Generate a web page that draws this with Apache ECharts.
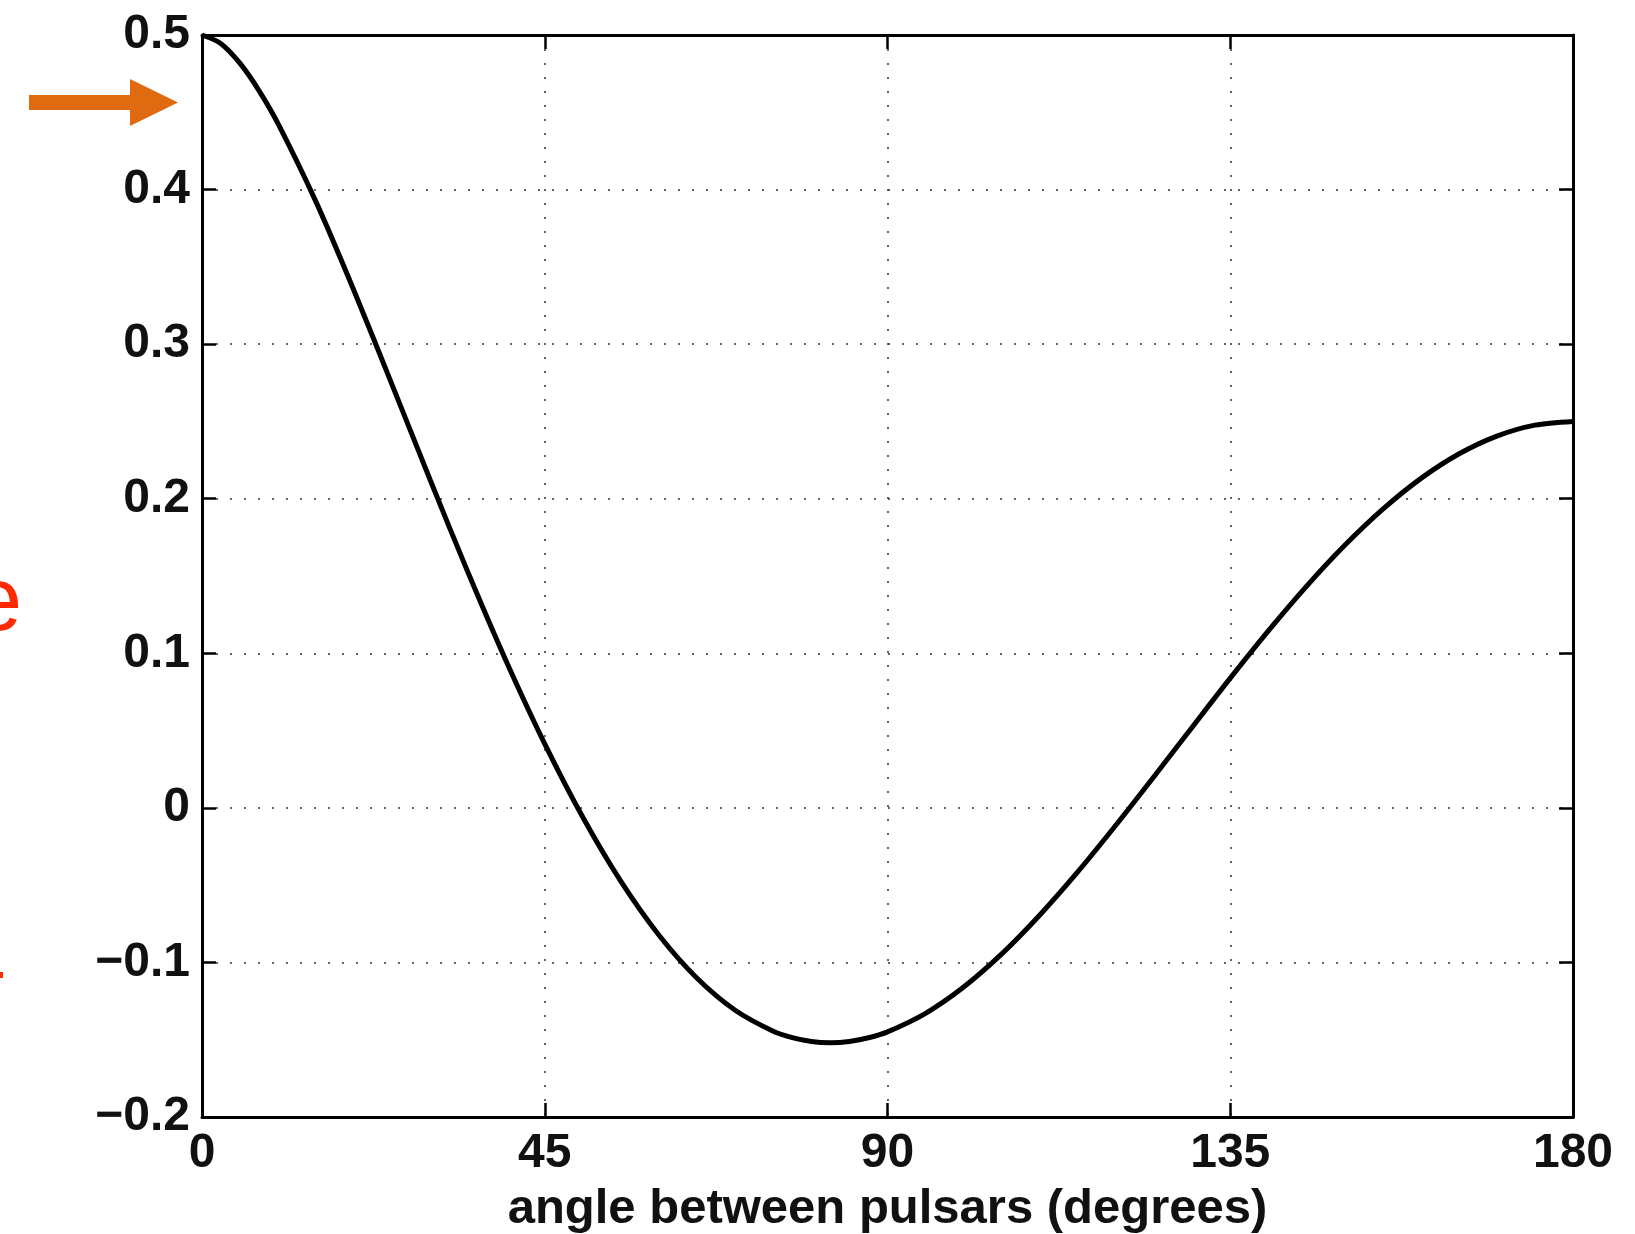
<!DOCTYPE html>
<html>
<head>
<meta charset="utf-8">
<script src="https://cdn.jsdelivr.net/npm/echarts@6/dist/echarts.min.js"></script>
<style>html,body{margin:0;padding:0;background:#fff;}#chart{width:1635px;height:1234px;}</style>
</head>
<body>
<div id="chart"></div>
<script>
// angle between pulsars (degrees)
const angles = [0,2.5,5,7.5,10,15,20,25,30,35,40,45,50,55,60,65,70,75,77.5,80,82.5,85,87.5,90,95,100,105,110,115,120,125,130,135,140,145,150,155,160,165,170,175,180];
// correlation
const correlation = [0.5,0.4944,0.4816,0.4639,0.4425,0.3917,0.3341,0.2732,0.2116,0.1514,0.0942,0.0414,-0.0061,-0.0476,-0.0824,-0.1102,-0.1309,-0.1445,-0.1486,-0.1511,-0.1519,-0.1511,-0.1487,-0.1449,-0.1329,-0.1159,-0.0945,-0.0693,-0.0413,-0.0111,0.0203,0.0522,0.0839,0.1145,0.1433,0.1697,0.1931,0.2130,0.2289,0.2405,0.2476,0.25];
const xTicks = [0,45,90,135,180];
const yTicks = [-0.2,-0.1,0,0.1,0.2,0.3,0.4,0.5];
const xName = 'angle between pulsars (degrees)';

const chart = echarts.init(document.getElementById('chart'), null, {renderer:'canvas'});
const fontFam = '"Liberation Sans", Arial, Helvetica, sans-serif';
const dotted = {color:'#333', width:1.5, type:[2,12]};
const fmtY = v => { const r = Math.round(v*10)/10; return r === 0 ? '0' : r.toFixed(1).replace('-', '\u2212'); };

chart.setOption({
  animation:false,
  backgroundColor:'#fff',
  grid:{left:202, right:62, top:35, bottom:117, containLabel:false, outerBoundsMode:'none'},
  xAxis:[{
    type:'value', min:xTicks[0], max:xTicks[xTicks.length-1], interval:45,
    position:'bottom',
    name:xName, nameLocation:'middle', nameGap:68,
    nameTextStyle:{fontFamily:fontFam, fontWeight:'bold', fontSize:49, color:'#111'},
    axisLine:{show:true, onZero:false, lineStyle:{color:'#000', width:3}},
    axisTick:{show:true, inside:true, length:14, lineStyle:{color:'#000', width:2.5}},
    axisLabel:{show:true, margin:13, fontFamily:fontFam, fontWeight:'bold', fontSize:48, color:'#111'},
    splitLine:{show:true, lineStyle:dotted}
  },{
    type:'value', min:xTicks[0], max:xTicks[xTicks.length-1], interval:45,
    position:'top',
    axisLine:{show:true, onZero:false, lineStyle:{color:'#000', width:3}},
    axisTick:{show:true, inside:true, length:14, lineStyle:{color:'#000', width:2.5}},
    axisLabel:{show:false}, splitLine:{show:false}
  }],
  yAxis:[{
    type:'value', min:yTicks[0], max:yTicks[yTicks.length-1], interval:0.1,
    position:'left',
    axisLine:{show:true, onZero:false, lineStyle:{color:'#000', width:3}},
    axisTick:{show:true, inside:true, length:14, lineStyle:{color:'#000', width:2.5}},
    axisLabel:{show:true, margin:12, formatter:fmtY, fontFamily:fontFam, fontWeight:'bold', fontSize:48, color:'#111'},
    splitLine:{show:true, lineStyle:dotted}
  },{
    type:'value', min:yTicks[0], max:yTicks[yTicks.length-1], interval:0.1,
    position:'right',
    axisLine:{show:true, onZero:false, lineStyle:{color:'#000', width:3}},
    axisTick:{show:true, inside:true, length:14, lineStyle:{color:'#000', width:2.5}},
    axisLabel:{show:false}, splitLine:{show:false}
  }],
  series:[{
    type:'line', xAxisIndex:0, yAxisIndex:0,
    data: angles.map((a,i)=>[a, correlation[i]]),
    smooth:0.3, showSymbol:false, clip:false,
    lineStyle:{color:'#000', width:5}
  }],
  graphic:[
    {type:'polygon', shape:{points:[[29,95],[130,95],[130,79],[178,102.5],[130,126],[130,110],[29,110]]}, style:{fill:'#e06a10'}},
    {type:'text', x:22, y:605, style:{text:'e', font:'90px "Liberation Sans", Arial, sans-serif', fill:'#ff2a00', align:'right', verticalAlign:'middle'}},
    {type:'rect', shape:{x:0, y:972, width:3, height:6}, style:{fill:'#ff2a00'}}
  ]
});
</script>
</body>
</html>
